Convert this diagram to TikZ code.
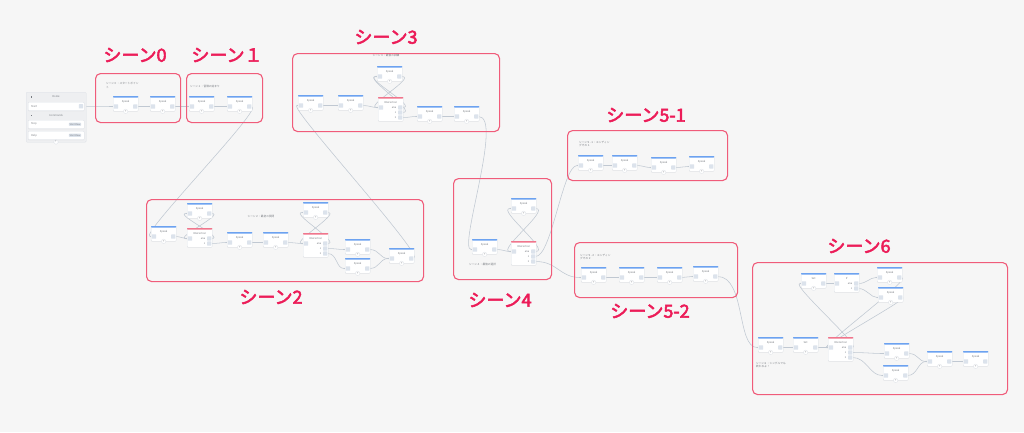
\documentclass[tikz,border=0pt]{standalone}
\usepackage{fontspec}
\setmainfont{Noto Sans CJK JP}
\newfontfamily\lblfont{Noto Sans CJK JP}[FakeBold=3]
\usetikzlibrary{arrows.meta,shadows}
\pgfdeclarelayer{backdrop}
\pgfdeclarelayer{wires}
\pgfsetlayers{backdrop,wires,main}
\definecolor{bgc}{RGB}{246,246,246}
\definecolor{scb}{RGB}{240,92,122}
\definecolor{lbc}{RGB}{236,28,88}
\definecolor{lnc}{RGB}{192,200,210}
\definecolor{ptc}{RGB}{220,227,236}
\definecolor{bdc}{RGB}{220,224,230}
\definecolor{blueb}{RGB}{108,162,240}
\definecolor{pinkb}{RGB}{240,118,140}
\definecolor{panel}{RGB}{238,239,241}
\definecolor{txc}{RGB}{120,124,130}
\tikzset{
 conn/.style={draw=lnc, line width=0.55pt, -{Latex[length=1.8pt,width=1.6pt]}},
 body/.style={draw=bdc, fill=white, line width=0.3pt, rounded corners=0.8pt, minimum width=25pt, inner sep=0pt, anchor=north west, drop shadow={opacity=0.07, shadow xshift=0pt, shadow yshift=-0.7pt}},
 port/.style={fill=ptc, minimum size=4.2pt, inner sep=0pt, rounded corners=0.4pt},
 addc/.style={circle, draw=bdc, fill=white, line width=0.3pt, minimum size=4.4pt, inner sep=0pt, font=\fontsize{3}{3}\selectfont, text=txc},
 ttl/.style={font=\fontsize{2.6}{3}\selectfont, text=txc, inner sep=0pt},
 rowl/.style={font=\fontsize{2.4}{3}\selectfont, text=txc, inner sep=0pt, anchor=east},
 scenebox/.style={draw=scb, line width=1.1pt, rounded corners=5pt, anchor=north west, inner sep=0pt},
 lbl/.style={font=\lblfont\fontsize{18}{18}\selectfont, text=lbc, inner sep=0pt},
 note/.style={font=\fontsize{2.7}{3.4}\selectfont, text=txc, align=left, inner sep=0pt, anchor=north west},
 badge/.style={fill=ptc, rounded corners=0.8pt, inner sep=0.7pt, font=\fontsize{2.3}{2.5}\selectfont, text=txc},
 bluebar/.style={fill=blueb, rounded corners=0.6pt},
 pinkbar/.style={fill=pinkb, rounded corners=0.6pt},
}
\newcommand\spk[4]{%
 \node[body, minimum height=15pt] (#1) at (#2,#3) {};
 \fill[bluebar] (#1.north west) rectangle ([yshift=-1.5pt]#1.north east);
 \node[ttl] (#1-t) at ([yshift=-5.4pt]#1.north) {#4};
 \node[port] (#1-in) at ([xshift=3pt,yshift=-10.5pt]#1.north west) {};
 \node[port] (#1-out) at ([xshift=-3pt,yshift=-10.5pt]#1.north east) {};
 \node[addc] (#1-p) at (#1.south) {+};
}
\newcommand\itr[6]{%
 \ifnum#6=3
  \node[body, minimum height=24pt] (#1) at (#2,#3) {};
 \else
  \node[body, minimum height=19pt] (#1) at (#2,#3) {};
 \fi
 \fill[#5] (#1.north west) rectangle ([yshift=-1.5pt]#1.north east);
 \node[ttl] (#1-t) at ([yshift=-5.4pt]#1.north) {#4};
 \node[port] (#1-in) at ([xshift=3pt,yshift=-10.5pt]#1.north west) {};
 \node[port] (#1-else) at ([xshift=-3pt,yshift=-10.5pt]#1.north east) {};
 \node[rowl] (#1-le) at ([xshift=-1.5pt]#1-else.west) {else};
 \node[port] (#1-o1) at ([xshift=-3pt,yshift=-15.5pt]#1.north east) {};
 \node[rowl] (#1-l1) at ([xshift=-1.5pt]#1-o1.west) {1};
 \ifnum#6=3
  \node[port] (#1-o2) at ([xshift=-3pt,yshift=-20.5pt]#1.north east) {};
  \node[rowl] (#1-l2) at ([xshift=-1.5pt]#1-o2.west) {2};
 \fi
}
\begin{document}
\begin{tikzpicture}[x=1pt,y=-1pt]
\useasboundingbox (0,0) rectangle (1024,432);
\begin{pgfonlayer}{backdrop}
\fill[bgc] (0,0) rectangle (1024,432);
\end{pgfonlayer}

% ---------- scene frames ----------
\node[scenebox, minimum width=85pt, minimum height=49pt] (sc0) at (95,73) {};
\node[scenebox, minimum width=76pt, minimum height=49pt] (sc1) at (186,73) {};
\node[scenebox, minimum width=277pt, minimum height=82pt] (sc2) at (146,199) {};
\node[scenebox, minimum width=207pt, minimum height=78pt] (sc3) at (292,53) {};
\node[scenebox, minimum width=98pt, minimum height=101pt] (sc4) at (453,178) {};
\node[scenebox, minimum width=160pt, minimum height=50pt] (sc51) at (567,130) {};
\node[scenebox, minimum width=163pt, minimum height=55pt] (sc52) at (574,242) {};
\node[scenebox, minimum width=255pt, minimum height=132pt] (sc6) at (752,262) {};

% ---------- big labels ----------
\node[lbl] (l0) at (135,55) {シーン0};
\node[lbl] (l1) at (227,55) {シーン１};
\node[lbl] (l2) at (271,297) {シーン2};
\node[lbl] (l3) at (386,37) {シーン3};
\node[lbl] (l4) at (500,300) {シーン4};
\node[lbl] (l51) at (646,115) {シーン5-1};
\node[lbl] (l52) at (650,311) {シーン5-2};
\node[lbl] (l6) at (859,246) {シーン6};

% ---------- notes ----------
\node[note] (n0) at (106,82.5) {シーン０：スタートポイン\\ト};
\node[note] (n1) at (190,85) {シーン１：冒険の始まり};
\node[note, anchor=center] (n2) at (261,216) {シーン２：最初の質問};
\node[note, anchor=center] (n3) at (386,55.5) {シーン３：最後の試練};
\node[note] (n4) at (469,263.5) {シーン４：最後の選択};
\node[note] (n51) at (579,141) {シーン５-１：エンディン\\グその１};
\node[note] (n52) at (580,254) {シーン５-２：エンディン\\グその２};
\node[note] (n6) at (756,362) {シーン６：シングルでも\\終わるよ！};

% ---------- Home panel ----------
\node[draw=bdc, fill=panel, line width=0.3pt, rounded corners=1pt, minimum width=60pt, minimum height=50pt, anchor=north west, inner sep=0pt] (home) at (26,92) {};
\fill[txc] (30.5,96) rectangle (32.3,97.8);
\node[ttl] (home-t) at (56,97) {Home};
\node[body, minimum width=56pt, minimum height=8.5pt] (hrow1) at (28,102) {};
\node[ttl, anchor=west] (hrow1-t) at (31,106.3) {Start};
\node[port] (hstart) at (81,106.3) {};
\fill[txc] (30.5,114.5) rectangle (32.3,116.3);
\node[ttl] (home-c) at (56,115.5) {Commands};
\node[body, minimum width=56pt, minimum height=8.5pt] (hrow2) at (28,120) {};
\node[ttl, anchor=west] (hrow2-t) at (31,124.3) {Stop};
\node[badge] (hrow2-b) at (75,124.3) {Start Flow};
\node[body, minimum width=56pt, minimum height=8.5pt] (hrow3) at (28,131) {};
\node[ttl, anchor=west] (hrow3-t) at (31,135.3) {Help};
\node[badge] (hrow3-b) at (75,135.3) {Start Flow};
\node[addc] (home-p) at (56,142) {+};

% ---------- blocks ----------
\spk{s0a}{113}{96}{Speak}
\spk{s0b}{150}{96}{Speak}
\spk{s1a}{189}{96}{Speak}
\spk{s1b}{227}{96}{Speak}

\spk{s2a}{151}{226}{Speak}
\spk{s2b}{187}{203}{Speak}
\itr{i2a}{187}{228}{Interaction}{pinkbar}{2}
\spk{s2c}{227}{232}{Speak}
\spk{s2d}{263}{232}{Speak}
\spk{s2e}{303}{202}{Speak}
\itr{i2b}{303}{233}{Interaction}{pinkbar}{3}
\spk{s2f}{345}{239}{Speak}
\spk{s2g}{345}{258}{Speak}
\spk{s2h}{389}{248}{Speak}

\spk{s3a}{298}{95}{Speak}
\spk{s3b}{338}{95}{Speak}
\spk{s3t}{377}{66}{Speak}
\itr{i3}{378}{97}{Interaction}{pinkbar}{3}
\spk{s3c}{417}{106}{Speak}
\spk{s3d}{454}{106}{Speak}

\spk{s4a}{472}{239}{Speak}
\spk{s4t}{511}{198}{Speak}
\itr{i4}{511}{241}{Interaction}{pinkbar}{3}

\spk{s51a}{578}{155}{Speak}
\spk{s51b}{612}{155}{Speak}
\spk{s51c}{651}{157}{Speak}
\spk{s51d}{689}{156}{Speak}

\spk{s52a}{581}{267}{Speak}
\spk{s52b}{619}{267}{Speak}
\spk{s52c}{657}{267}{Speak}
\spk{s52d}{693}{266}{Speak}

\spk{s6a}{758}{337}{Speak}
\spk{s6b}{793}{337}{Set}
\itr{i6}{828}{337}{Interaction}{pinkbar}{3}
\spk{s6c}{884}{343}{Speak}
\spk{s6d}{883}{365}{Speak}
\spk{s6e}{927}{351}{Speak}
\spk{s6f}{963}{351}{Speak}
\spk{s6g}{801}{273}{Set}
\itr{s6h}{834}{273}{If}{bluebar}{2}
\spk{s6i}{877}{267}{Speak}
\spk{s6j}{878}{287}{Speak}

% ---------- connectors (behind the blocks) ----------
\begin{pgfonlayer}{wires}
\draw[conn] (hstart.east) -- (s0a-in.west);
\draw[conn] (s0a-out.east) -- (s0b-in.west);
\draw[conn] (s0b-out.east) -- (s1a-in.west);
\draw[conn] (s1a-out.east) -- (s1b-in.west);
\draw[conn] (s1b-out.east) .. controls +(14,0) and +(-14,0) .. (s2a-in.west);

\draw[conn] (s2a-out.east) .. controls +(5,0) and +(-5,0) .. (i2a-in.west);
\draw[conn] (i2a-else.east) .. controls +(14,0) and +(-14,0) .. (s2b-in.west);
\draw[conn] (s2b-out.east) .. controls +(14,0) and +(-14,0) .. (i2a-in.west);
\draw[conn] (i2a-o1.east) .. controls +(6,0) and +(-6,0) .. (s2c-in.west);
\draw[conn] (s2c-out.east) -- (s2d-in.west);
\draw[conn] (s2d-out.east) .. controls +(6,0) and +(-6,0) .. (i2b-in.west);
\draw[conn] (i2b-else.east) .. controls +(14,0) and +(-14,0) .. (s2e-in.west);
\draw[conn] (s2e-out.east) .. controls +(14,0) and +(-14,0) .. (i2b-in.west);
\draw[conn] (i2b-o1.east) .. controls +(8,0) and +(-8,0) .. (s2f-in.west);
\draw[conn] (i2b-o2.east) .. controls +(10,0) and +(-10,0) .. (s2g-in.west);
\draw[conn] (s2f-out.east) .. controls +(10,0) and +(-10,0) .. (s2h-in.west);
\draw[conn] (s2g-out.east) .. controls +(10,0) and +(-10,0) .. (s2h-in.west);
\draw[conn] (s2h-out.east) .. controls +(14,0) and +(-12,0) .. (s3a-in.west);

\draw[conn] (s3a-out.east) -- (s3b-in.west);
\draw[conn] (s3b-out.east) .. controls +(7,0) and +(-7,0) .. (i3-in.west);
\draw[conn] (i3-else.east) .. controls +(16,0) and +(-16,0) .. (s3t-in.west);
\draw[conn] (i3-o1.east) .. controls +(16,0) and +(-16,0) .. (s3t-in.west);
\draw[conn] (s3t-out.east) .. controls +(16,0) and +(-16,0) .. (i3-in.west);
\draw[conn] (i3-o2.east) .. controls +(7,0) and +(-7,0) .. (s3c-in.west);
\draw[conn] (s3c-out.east) -- (s3d-in.west);
\draw[conn] (s3d-out.east) .. controls +(25,0) and +(-15,0) .. (s4a-in.west);

\draw[conn] (s4a-out.east) .. controls +(6,0) and +(-6,0) .. (i4-in.west);
\draw[conn] (i4-else.east) .. controls +(16,0) and +(-16,0) .. (s4t-in.west);
\draw[conn] (s4t-out.east) .. controls +(16,0) and +(-16,0) .. (i4-in.west);
\draw[conn] (i4-o1.east) .. controls +(16,0) and +(-16,0) .. (s51a-in.west);
\draw[conn] (i4-o2.east) .. controls +(22,0) and +(-22,0) .. (s52a-in.west);

\draw[conn] (s51a-out.east) -- (s51b-in.west);
\draw[conn] (s51b-out.east) .. controls +(6,0) and +(-6,0) .. (s51c-in.west);
\draw[conn] (s51c-out.east) .. controls +(6,0) and +(-6,0) .. (s51d-in.west);

\draw[conn] (s52a-out.east) -- (s52b-in.west);
\draw[conn] (s52b-out.east) -- (s52c-in.west);
\draw[conn] (s52c-out.east) .. controls +(6,0) and +(-6,0) .. (s52d-in.west);
\draw[conn] (s52d-out.east) .. controls +(28,0) and +(-22,0) .. (s6a-in.west);

\draw[conn] (s6a-out.east) -- (s6b-in.west);
\draw[conn] (s6b-out.east) -- (i6-in.west);
\draw[conn] (i6-else.east) .. controls +(10,0) and +(-12,0) .. (s6g-in.west);
\draw[conn] (s6g-out.east) -- (s6h-in.west);
\draw[conn] (s6h-else.east) .. controls +(8,0) and +(-8,0) .. (s6i-in.west);
\draw[conn] (s6h-o1.east) .. controls +(8,0) and +(-8,0) .. (s6j-in.west);
\draw[conn] (s6i-out.east) .. controls +(12,0) and +(-10,0) .. (i6-in.west);
\draw[conn] (s6j-out.east) .. controls +(8,0) and +(-10,0) .. (i6-in.west);
\draw[conn] (i6-o1.east) .. controls +(12,0) and +(-12,0) .. (s6c-in.west);
\draw[conn] (i6-o2.east) .. controls +(14,0) and +(-14,0) .. (s6d-in.west);
\draw[conn] (s6c-out.east) .. controls +(10,0) and +(-10,0) .. (s6e-in.west);
\draw[conn] (s6d-out.east) .. controls +(10,0) and +(-10,0) .. (s6e-in.west);
\draw[conn] (s6e-out.east) -- (s6f-in.west);
\end{pgfonlayer}
\end{tikzpicture}
\end{document}
